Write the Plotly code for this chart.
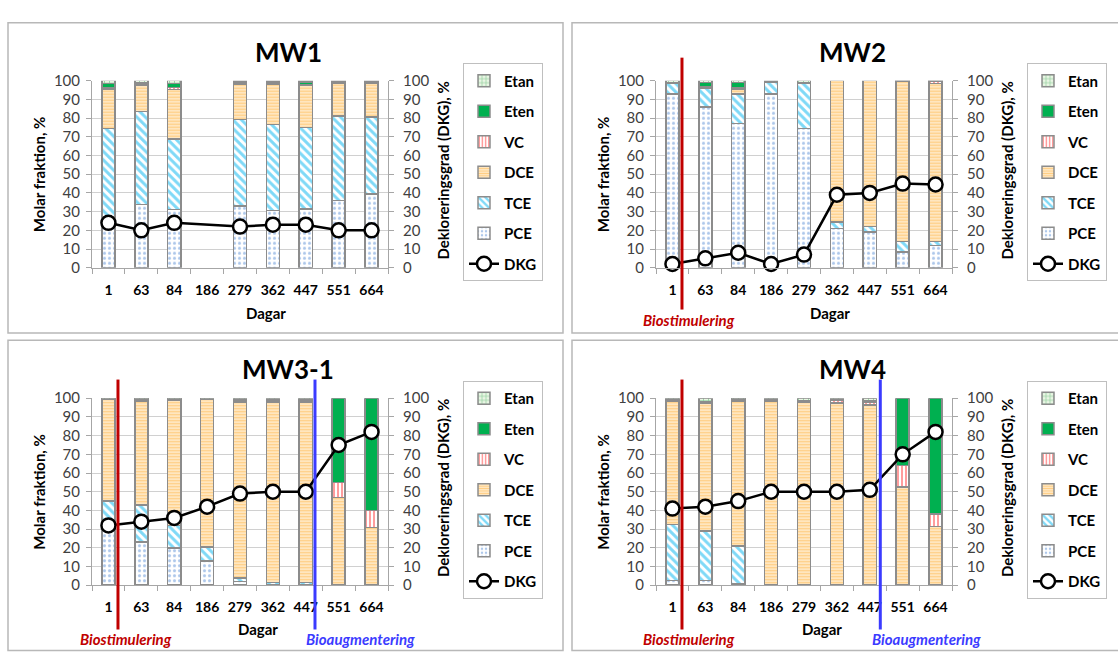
import plotly.graph_objects as go

W, H = 1118, 655
FONT = "Lato"

days = ["1", "63", "84", "186", "279", "362", "447", "551", "664"]
wells = ["MW1", "MW2", "MW3-1", "MW4"]

# ---- MW1 (molar fraction, %) ----
mw1_pce = [27, 33.8, 31, None, 33, 30.5, 31.5, 36, 39.5]
mw1_tce = [47.5, 49.8, 37.8, None, 46.2, 46, 43.5, 45, 41]
mw1_dce = [21, 14, 26.5, None, 19, 21.5, 22.5, 17.5, 18]
mw1_vc = [1, 0.4, 1.2, None, 0.8, 0.8, 0.5, 0.5, 0.5]
mw1_eten = [2, 0.8, 2, None, 0.5, 0.6, 1.2, 0.5, 0.5]
mw1_etan = [1.5, 1.2, 1.5, None, 0.5, 0.6, 0.8, 0.5, 0.5]
mw1_dkg = [24, 20, 24, None, 22, 23, 23, 20, 20]

# ---- MW2 ----
mw2_pce = [93, 86, 77, 93, 74.5, 21, 19, 8.5, 12]
mw2_tce = [5.5, 10, 16, 6, 24, 3.5, 3, 5.5, 2]
mw2_dce = [None, 0.5, 2.5, None, None, 75.5, 78, 85.5, 84.5]
mw2_vc = [None, 0.5, 0.5, None, None, None, None, None, 1.3]
mw2_eten = [0.5, 2, 3, 0.5, 0.5, None, None, 0.3, None]
mw2_etan = [1, 1, 1, 0.5, 1, None, None, 0.2, 0.2]
mw2_dkg = [2, 5, 8, 2, 7, 39, 40, 45, 44.5]

# ---- MW3-1 ----
mw3_pce = [30, 23, 20, 13, 2, 0.5, 0.5, None, None]
mw3_tce = [15, 20, 12, 7.5, 2, 1, 1, None, None]
mw3_dce = [54.5, 55.5, 67, 79, 94, 96.5, 96.5, 47, 31]
mw3_vc = [None, None, None, None, 0.5, 0.5, 0.5, 8, 9]
mw3_eten = [0.3, 1.2, 0.8, 0.3, 0.5, 0.5, 0.5, 45, 60]
mw3_etan = [0.2, 0.3, 0.2, 0.2, 1, 1, 1, None, None]
mw3_dkg = [32, 34, 36, 42, 49, 50, 50, 75, 82]

# ---- MW4 ----
mw4_pce = [2.5, 2.5, 1, None, None, None, None, None, None]
mw4_tce = [30, 26.5, 20, None, None, None, None, None, None]
mw4_dce = [66, 68.5, 77.5, 98.5, 98, 97.5, 96.5, 52.5, 31.5]
mw4_vc = [None, None, None, None, None, 1.2, 1.5, 11.5, 6.5]
mw4_eten = [0.5, 0.7, 1, 0.5, 0.5, 0.3, 0.5, 36, 62]
mw4_etan = [1, 1.8, 0.5, 1, 1.5, 1, 1.5, None, None]
mw4_dkg = [41, 42, 45, 50, 50, 50, 51, 70, 82]

# treatment events (position on the category axis)
biostim_x = {"MW2": 0.29, "MW3-1": 0.29, "MW4": 0.29}
bioaug_x = {"MW3-1": 6.28, "MW4": 6.32}

data = {
    "MW1": dict(PCE=mw1_pce, TCE=mw1_tce, DCE=mw1_dce, VC=mw1_vc, Eten=mw1_eten, Etan=mw1_etan, DKG=mw1_dkg),
    "MW2": dict(PCE=mw2_pce, TCE=mw2_tce, DCE=mw2_dce, VC=mw2_vc, Eten=mw2_eten, Etan=mw2_etan, DKG=mw2_dkg),
    "MW3-1": dict(PCE=mw3_pce, TCE=mw3_tce, DCE=mw3_dce, VC=mw3_vc, Eten=mw3_eten, Etan=mw3_etan, DKG=mw3_dkg),
    "MW4": dict(PCE=mw4_pce, TCE=mw4_tce, DCE=mw4_dce, VC=mw4_vc, Eten=mw4_eten, Etan=mw4_etan, DKG=mw4_dkg),
}
species = ["PCE", "TCE", "DCE", "VC", "Eten", "Etan"]
legend_rank = {"Etan": 1, "Eten": 2, "VC": 3, "DCE": 4, "TCE": 5, "PCE": 6, "DKG": 7}

styles = {
    "PCE": dict(color="white", pattern=dict(shape=".", fgcolor="#5C8FD6", bgcolor="white", size=5, solidity=0.3)),
    "TCE": dict(color="white", pattern=dict(shape="\\", fgcolor="#00B4F0", bgcolor="white", size=6, solidity=0.5)),
    "DCE": dict(color="white", pattern=dict(shape="-", fgcolor="#FF9A00", bgcolor="white", size=3, solidity=0.67)),
    "VC": dict(color="white", pattern=dict(shape="|", fgcolor="#FF3B3B", bgcolor="white", size=4, solidity=0.5)),
    "Eten": dict(color="#00B050"),
    "Etan": dict(color="white", pattern=dict(shape="+", fgcolor="#2FA352", bgcolor="#EAF5E4", size=5, solidity=0.3)),
}


def fx(p):
    return p / W


def fy(p):
    return 1 - p / H


offsets = [(0, 0), (564, 0), (0, 326.5), (564, 326.5)]

fig = go.Figure()
layout = {}
shapes = []
annotations = []

for i, well in enumerate(wells):
    n = i + 1
    dx, dy = offsets[i]
    xa = "x" if n == 1 else f"x{n}"
    ya = "y" if n == 1 else f"y{n}"
    ya2 = f"y{n + 4}"
    lg = "legend" if n == 1 else f"legend{n}"
    d = data[well]
    xs = list(range(len(days)))

    for sp in species:
        st = styles[sp]
        mk = dict(color=st["color"], line=dict(color="#8C8C8C", width=1.5))
        if "pattern" in st:
            mk["pattern"] = st["pattern"]
        fig.add_trace(go.Bar(
            x=xs, y=d[sp], name=sp, xaxis=xa, yaxis=ya, marker=mk,
            legend=lg, legendgroup=f"{well}-{sp}", legendrank=legend_rank[sp], showlegend=True))
    fig.add_trace(go.Scatter(
        x=xs, y=d["DKG"], name="DKG", mode="lines+markers", xaxis=xa, yaxis=ya2,
        line=dict(color="black", width=2.5), connectgaps=True, cliponaxis=False,
        marker=dict(symbol="circle", size=14, color="white", line=dict(color="black", width=2.5)),
        legend=lg, legendgroup=f"{well}-DKG", legendrank=legend_rank["DKG"], showlegend=True))

    xkey = "xaxis" if n == 1 else f"xaxis{n}"
    ykey = "yaxis" if n == 1 else f"yaxis{n}"
    y2key = f"yaxis{n + 4}"
    ydom = [fy(265 + dy), fy(72.7 + dy)]
    layout[xkey] = dict(
        domain=[fx(92 + dx), fx(388 + dx)], anchor=ya, range=[-0.5, 8.5],
        tickmode="array", tickvals=xs, ticktext=days,
        ticks="outside", ticklen=9, tickcolor="rgba(0,0,0,0)",
        tickfont=dict(family=FONT, size=14, color="black", weight="bold"),
        showline=True, linecolor="#A6A6A6", linewidth=1, showgrid=False, zeroline=False,
        minor=dict(tickmode="array", tickvals=[k - 0.5 for k in range(10)], ticks="outside",
                   ticklen=5, tickcolor="#A6A6A6", showgrid=False),
    )
    common_y = dict(
        domain=ydom, anchor=xa, range=[0, 100], tickmode="array", tickvals=list(range(0, 101, 10)),
        showline=True, linecolor="#A6A6A6", linewidth=1, ticks="outside", ticklen=5,
        tickcolor="#A6A6A6", tickfont=dict(family=FONT, size=15, color="#404040"), zeroline=False,
    )
    layout[ykey] = dict(common_y, showgrid=True, gridcolor="#D0D0D0", gridwidth=1, ticklabelstandoff=3)
    layout[y2key] = dict(common_y, overlaying=ya, side="right", showgrid=False, ticklabelstandoff=6)

    layout[lg] = dict(
        x=fx(463 + dx), y=fy(55 + dy), xanchor="left", yanchor="top",
        bordercolor="#BFBFBF", borderwidth=1, bgcolor="white",
        font=dict(family=FONT, size=15, color="black", weight="bold"),
        traceorder="grouped", tracegroupgap=8, itemwidth=30,
    )

    # panel frame
    shapes.append(dict(type="rect", xref="paper", yref="paper",
                       x0=fx(8 + dx), x1=fx(563 + dx), y0=fy(13 + dy), y1=fy(332 + dy),
                       line=dict(color="#B8B8B8", width=1.5), layer="below"))
    # title
    annotations.append(dict(text="<b>" + well + "</b>", x=fx(288 + dx), y=fy(43 + dy), xref="paper", yref="paper",
                            showarrow=False, font=dict(family=FONT, size=26, color="black"),
                            xanchor="center", yanchor="middle"))
    # axis titles
    annotations.append(dict(text="<b>Molar fraktion, %</b>", x=fx(39 + dx), y=fy(168.8 + dy), xref="paper",
                            yref="paper", showarrow=False, textangle=-90,
                            font=dict(family=FONT, size=15, color="black"), xanchor="center", yanchor="middle"))
    annotations.append(dict(text="<b>Dekloreringsgrad (DKG), %</b>", x=fx(443 + dx), y=fy(165 + dy), xref="paper",
                            yref="paper", showarrow=False, textangle=-90,
                            font=dict(family=FONT, size=15, color="black"), xanchor="center", yanchor="middle"))
    dag_x = 266 if dy == 0 else 258
    annotations.append(dict(text="<b>Dagar</b>", x=fx(dag_x + dx), y=fy(312 + (325 if dy else 0)), xref="paper",
                            yref="paper", showarrow=False,
                            font=dict(family=FONT, size=15, color="black"), xanchor="center", yanchor="middle"))

    top_line, bot_line, txt_y = (49, 308, 319) if dy == 0 else (380, 637, 647)
    if well in biostim_x:
        shapes.append(dict(type="line", xref=xa, yref="paper", x0=biostim_x[well], x1=biostim_x[well],
                           y0=fy(bot_line), y1=fy(top_line), line=dict(color="#C00000", width=3)))
        annotations.append(dict(text="<b><i>Biostimulering</i></b>", x=fx(126 + dx) if dx == 0 else fx(689),
                                y=fy(txt_y), xref="paper", yref="paper", showarrow=False,
                                font=dict(family=FONT, size=15, color="#C00000"),
                                xanchor="center", yanchor="middle"))
    if well in bioaug_x:
        shapes.append(dict(type="line", xref=xa, yref="paper", x0=bioaug_x[well], x1=bioaug_x[well],
                           y0=fy(bot_line), y1=fy(top_line), line=dict(color="#3B3BFF", width=3)))
        annotations.append(dict(text="<b><i>Bioaugmentering</i></b>", x=fx(360 + dx + (2 if dx else 0)),
                                y=fy(txt_y), xref="paper", yref="paper", showarrow=False,
                                font=dict(family=FONT, size=15, color="#3B3BFF"),
                                xanchor="center", yanchor="middle"))

fig.update_layout(
    width=W, height=H, margin=dict(l=0, r=0, t=0, b=0),
    paper_bgcolor="white", plot_bgcolor="rgba(0,0,0,0)",
    barmode="stack", bargap=0.6,
    font=dict(family=FONT),
    shapes=shapes, annotations=annotations,
    **layout,
)

post = (
    "document.documentElement.style.margin='0';"
    "document.documentElement.style.overflow='hidden';"
    "document.body.style.margin='0';"
    "document.body.style.overflow='hidden';"
    "var gd=document.getElementById('{plot_id}');"
    "gd.style.position='fixed';gd.style.left='0px';gd.style.top='0px';"
)

fig.write_html("out.html", config={"displayModeBar": False}, post_script=post)
